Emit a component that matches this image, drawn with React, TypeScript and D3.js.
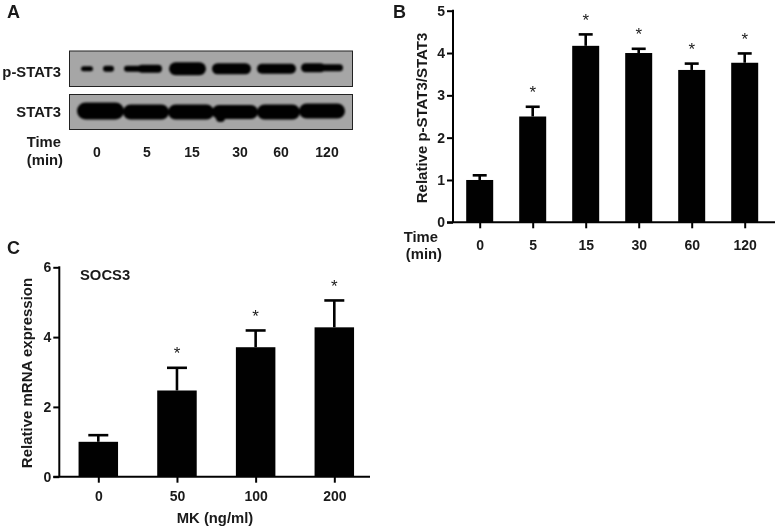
import React, { useEffect, useRef } from "react";
import * as d3 from "d3";

const timeLabels = ["0", "5", "15", "30", "60", "120"];
const statMeans = [1.0, 2.5, 4.17, 4.0, 3.6, 3.77];
const statErrors = [0.11, 0.23, 0.27, 0.1, 0.15, 0.22];
const doseLabels = ["0", "50", "100", "200"];
const socsMeans = [1.0, 2.47, 3.71, 4.28];
const socsErrors = [0.19, 0.65, 0.48, 0.77];

// blot bands: start, end, thickness, vertical offset (px)
const pBands = [
  [81, 93, 5, 0],
  [103, 114, 6, 0],
  [124, 150, 6, 0],
  [138, 162, 8, 0],
  [169, 206, 13, 0],
  [212, 251, 11, 0],
  [257, 296, 10, 0],
  [301, 325, 9, -1],
  [315, 343, 7, -1],
];
const totalBands = [
  [77, 124, 17, -1],
  [123, 169, 15, 0],
  [168, 214, 15, 0],
  [216, 225, 8, 6],
  [212, 258, 14, 0],
  [257, 300, 15, 0],
  [299, 345, 15, -1],
];

const font = "Arial, 'Liberation Sans', sans-serif";
const ink = "#1a1a1a";

type Sel = d3.Selection<SVGGElement, unknown, null, undefined>;

const drawBars = (
  g: Sel,
  labels: string[],
  means: number[],
  errors: number[],
  opt: {
    x0: number; x1: number; first: number; step: number; barW: number;
    yTop: number; yBottom: number; yMax: number; ticks: number[]; capW: number;
    label: string; labelX: number; labelY: number; xPad: number;
  }
) => {
  const x = d3
    .scalePoint<string>()
    .domain(labels)
    .range([opt.first, opt.first + opt.step * (labels.length - 1)]);
  const y = d3.scaleLinear().domain([0, opt.yMax]).range([opt.yBottom, opt.yTop]);

  const bars = g.selectAll("g.bar").data(labels).join("g").attr("class", "bar");
  bars
    .append("rect")
    .attr("x", (d) => x(d)! - opt.barW / 2)
    .attr("width", opt.barW)
    .attr("y", (_, i) => y(means[i]))
    .attr("height", (_, i) => opt.yBottom - y(means[i]))
    .attr("fill", "#000");
  bars
    .append("line")
    .attr("x1", (d) => x(d)!)
    .attr("x2", (d) => x(d)!)
    .attr("y1", (_, i) => y(means[i]))
    .attr("y2", (_, i) => y(means[i] + errors[i]))
    .attr("stroke", "#000")
    .attr("stroke-width", 2.6);
  bars
    .append("line")
    .attr("x1", (d) => x(d)! - opt.capW / 2)
    .attr("x2", (d) => x(d)! + opt.capW / 2)
    .attr("y1", (_, i) => y(means[i] + errors[i]))
    .attr("y2", (_, i) => y(means[i] + errors[i]))
    .attr("stroke", "#000")
    .attr("stroke-width", 2.6);
  bars
    .filter((_, i) => i > 0)
    .append("text")
    .attr("x", (d) => x(d)!)
    .attr("y", (d) => y(means[labels.indexOf(d)] + errors[labels.indexOf(d)]) - 8.5)
    .attr("text-anchor", "middle")
    .attr("font-family", font)
    .attr("font-size", 17)
    .attr("fill", ink)
    .text("*");

  const yAxis = d3.axisLeft(y).tickValues(opt.ticks).tickFormat(d3.format("d")).tickSize(6).tickPadding(2);
  const ya = g.append("g").attr("transform", `translate(${opt.x0},0)`).call(yAxis);
  const xa = g
    .append("g")
    .attr("transform", `translate(0,${opt.yBottom})`)
    .call(d3.axisBottom(x).tickSize(6).tickPadding(opt.xPad));
  // extend baseline to the plot's full width
  xa.select(".domain").attr("d", `M${opt.x0 - 6},0H${opt.x1}`);
  ya.select(".domain").attr("d", `M0,${opt.yTop - 1}V${opt.yBottom}`);
  [ya, xa].forEach((a) => {
    a.selectAll("path,line").attr("stroke", "#000").attr("stroke-width", 2);
    a.selectAll("text")
      .attr("font-family", font)
      .attr("font-weight", "bold")
      .attr("font-size", 14)
      .attr("fill", ink);
  });
  g.append("text")
    .attr("transform", `translate(${opt.labelX},${opt.labelY}) rotate(-90)`)
    .attr("text-anchor", "middle")
    .attr("font-family", font)
    .attr("font-weight", "bold")
    .attr("font-size", 15)
    .attr("fill", ink)
    .text(opt.label);
};

const drawBlot = (g: Sel, x0: number, x1: number, y0: number, y1: number, bands: number[][]) => {
  g.append("rect")
    .attr("x", x0)
    .attr("y", y0)
    .attr("width", x1 - x0)
    .attr("height", y1 - y0)
    .attr("fill", "#a6a6a6")
    .attr("stroke", "#222")
    .attr("stroke-width", 1);
  const mid = (y0 + y1) / 2;
  g.append("g")
    .attr("filter", "url(#soft)")
    .selectAll("rect")
    .data(bands)
    .join("rect")
    .attr("x", (d) => d[0])
    .attr("width", (d) => d[1] - d[0])
    .attr("y", (d) => mid + d[3] - d[2] / 2)
    .attr("height", (d) => d[2])
    .attr("rx", (d) => d[2] / 2)
    .attr("fill", "#060606");
};

const put = (g: Sel, s: string, x: number, y: number, size = 14.8, anchor = "start") =>
  g
    .append("text")
    .attr("x", x)
    .attr("y", y)
    .attr("font-family", font)
    .attr("font-weight", "bold")
    .attr("font-size", size)
    .attr("text-anchor", anchor)
    .attr("fill", ink)
    .text(s);

export default function App() {
  const ref = useRef<SVGSVGElement>(null);

  useEffect(() => {
    if (!ref.current) return;
    const svg = d3.select(ref.current);
    svg.selectAll("*").remove();
    svg
      .append("defs")
      .append("filter")
      .attr("id", "soft")
      .append("feGaussianBlur")
      .attr("stdDeviation", 1.2);
    const root = svg.append("g").style("opacity", 0.999) as unknown as Sel;

    // panel A
    put(root, "A", 7, 18, 18);
    drawBlot(root, 69.5, 352.5, 51, 86.5, pBands);
    drawBlot(root, 69.5, 352.5, 94.5, 129.5, totalBands);
    put(root, "p-STAT3", 61, 77, 14.8, "end");
    put(root, "STAT3", 61, 116.5, 14.8, "end");
    put(root, "Time", 61, 147, 14.8, "end");
    put(root, "(min)", 63, 165, 14.8, "end");
    const laneX = d3
      .scaleOrdinal<string, number>()
      .domain(timeLabels)
      .range([97, 147, 192, 240, 281, 327]);
    timeLabels.forEach((t) => put(root, t, laneX(t), 157, 14, "middle"));

    // panel B
    put(root, "B", 393, 18, 18);
    drawBars(root.append("g") as unknown as Sel, timeLabels, statMeans, statErrors, {
      x0: 453, x1: 775, first: 479.7, step: 53, barW: 27,
      yTop: 10.7, yBottom: 222.3, yMax: 5, ticks: [0, 1, 2, 3, 4, 5],
      capW: 14, label: "Relative p-STAT3/STAT3", labelX: 427, labelY: 118, xPad: 12,
    });
    put(root, "Time", 438, 242, 14.8, "end");
    put(root, "(min)", 442, 259, 14.8, "end");

    // panel C
    put(root, "C", 7, 254, 18);
    drawBars(root.append("g") as unknown as Sel, doseLabels, socsMeans, socsErrors, {
      x0: 59.3, x1: 370, first: 98.3, step: 78.67, barW: 39.5,
      yTop: 267.3, yBottom: 476.7, yMax: 6, ticks: [0, 2, 4, 6],
      capW: 20, label: "Relative mRNA expression", labelX: 32, labelY: 373, xPad: 8,
    });
    put(root, "SOCS3", 80, 280, 14.8);
    put(root, "MK (ng/ml)", 215, 523, 14.8, "middle");
  }, []);

  return (
    <svg
      ref={ref}
      width={776}
      height={530}
      style={{ position: "absolute", left: 0, top: 0, background: "#fff" }}
    />
  );
}
